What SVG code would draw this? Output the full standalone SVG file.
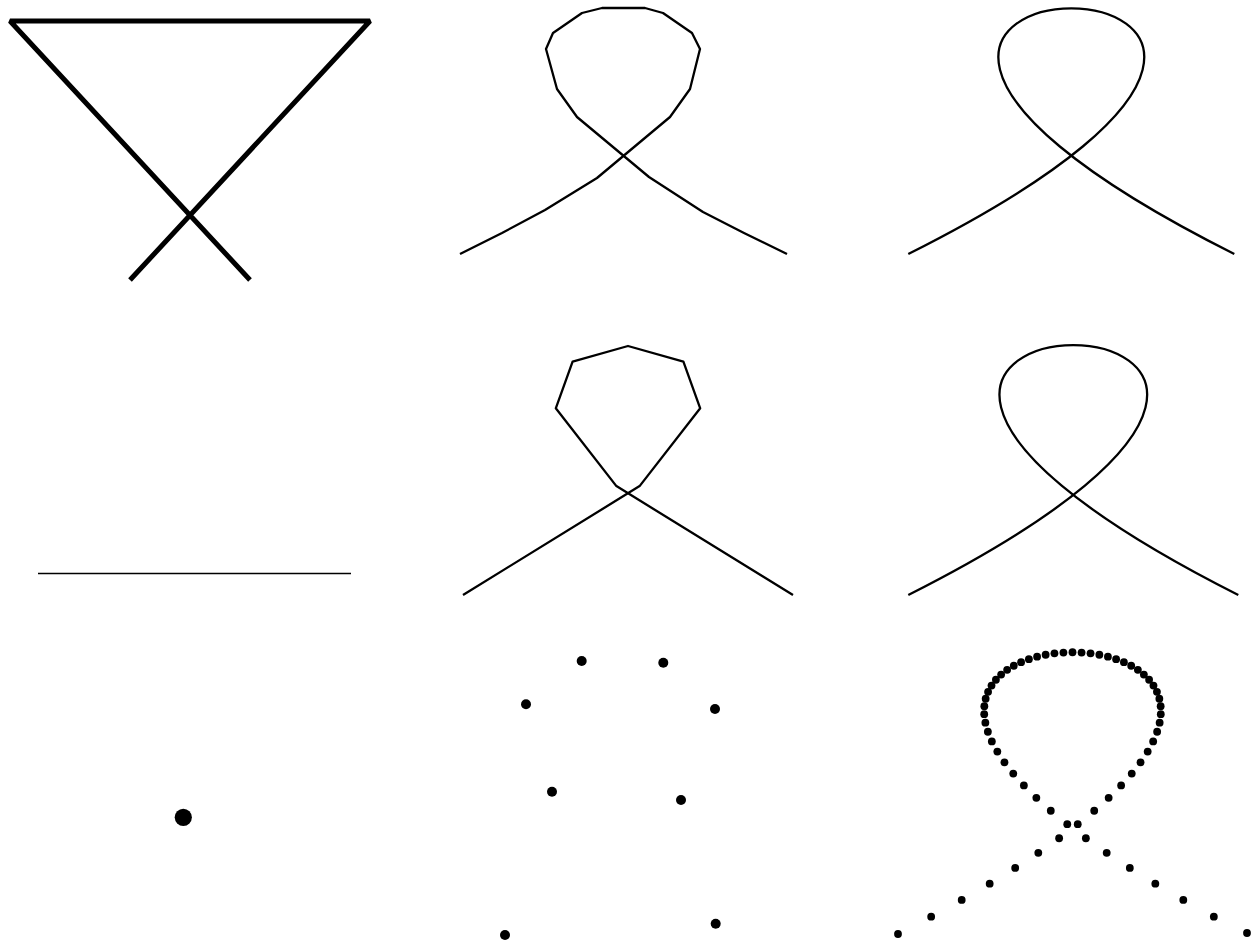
<svg xmlns="http://www.w3.org/2000/svg" width="1252" height="943" viewBox="0 0 1252 943">
<style>
.ln{fill:none;stroke:#000;stroke-width:2.3;stroke-linejoin:round}
</style>
<defs>
<circle id="d" r="3.9" fill="#000"/>
<circle id="dm" r="5" fill="#000"/>
</defs>
<rect width="1252" height="943" fill="#fff"/>
<g id="control-polygon">
<polyline points="130,280 370,21 10,21 250,280" fill="none" stroke="#000" stroke-width="5" stroke-linejoin="bevel"/>
</g>
<g id="coarse-flatten">
<polyline class="ln" points="460,254 502,233 545,210 597,178 670,117 690,89 700,49 692,33 663,13 645,8 602,8 582,13 553,33 546,49 557,89 577,117 649,177 703,212 744,233 787,254"/>
</g>
<g id="smooth-curve-1">
<path class="ln" d="M908.3,254 C1560.3,-73.6 582.3,-73.6 1234.3,254"/>
</g>
<g id="line-segment">
<line x1="38" y1="573.5" x2="351" y2="573.5" stroke="#000" stroke-width="1.6"/>
</g>
<g id="uniform-8">
<polyline class="ln" points="463,595 639.6,486.1 700.2,408.3 683.4,361.6 628,346 572.6,361.6 555.8,408.3 616.4,486.1 793,595"/>
</g>
<g id="smooth-curve-2">
<path class="ln" d="M908.3,595 C1568.3,261.7 578.3,261.7 1238.3,595"/>
</g>
<g id="single-point">
<circle cx="183.3" cy="817.3" r="8.6" fill="#000"/>
</g>
<g id="sparse-points">
<use href="#dm" x="581.7" y="661"/>
<use href="#dm" x="663.3" y="662.7"/>
<use href="#dm" x="526" y="704.3"/>
<use href="#dm" x="715" y="709"/>
<use href="#dm" x="552" y="791.7"/>
<use href="#dm" x="681" y="800"/>
<use href="#dm" x="505" y="935"/>
<use href="#dm" x="715.7" y="923.7"/>
</g>
<g id="dense-points">
<use href="#d" x="898" y="934"/>
<use href="#d" x="931.17" y="916.67"/>
<use href="#d" x="961.7" y="899.88"/>
<use href="#d" x="989.68" y="883.65"/>
<use href="#d" x="1015.18" y="867.96"/>
<use href="#d" x="1038.3" y="852.83"/>
<use href="#d" x="1059.13" y="838.25"/>
<use href="#d" x="1077.74" y="824.22"/>
<use href="#d" x="1094.22" y="810.73"/>
<use href="#d" x="1108.65" y="797.8"/>
<use href="#d" x="1121.13" y="785.42"/>
<use href="#d" x="1131.74" y="773.59"/>
<use href="#d" x="1140.55" y="762.31"/>
<use href="#d" x="1147.67" y="751.58"/>
<use href="#d" x="1153.16" y="741.4"/>
<use href="#d" x="1157.13" y="731.77"/>
<use href="#d" x="1159.64" y="722.69"/>
<use href="#d" x="1160.79" y="714.16"/>
<use href="#d" x="1160.67" y="706.18"/>
<use href="#d" x="1159.35" y="698.75"/>
<use href="#d" x="1156.93" y="691.87"/>
<use href="#d" x="1153.48" y="685.54"/>
<use href="#d" x="1149.1" y="679.76"/>
<use href="#d" x="1143.87" y="674.54"/>
<use href="#d" x="1137.87" y="669.86"/>
<use href="#d" x="1131.19" y="665.73"/>
<use href="#d" x="1123.91" y="662.16"/>
<use href="#d" x="1116.12" y="659.13"/>
<use href="#d" x="1107.91" y="656.65"/>
<use href="#d" x="1099.36" y="654.73"/>
<use href="#d" x="1090.55" y="653.35"/>
<use href="#d" x="1081.57" y="652.53"/>
<use href="#d" x="1072.5" y="652.25"/>
<use href="#d" x="1063.43" y="652.53"/>
<use href="#d" x="1054.45" y="653.35"/>
<use href="#d" x="1045.64" y="654.73"/>
<use href="#d" x="1037.09" y="656.65"/>
<use href="#d" x="1028.88" y="659.13"/>
<use href="#d" x="1021.09" y="662.16"/>
<use href="#d" x="1013.81" y="665.73"/>
<use href="#d" x="1007.13" y="669.86"/>
<use href="#d" x="1001.13" y="674.54"/>
<use href="#d" x="995.9" y="679.76"/>
<use href="#d" x="991.52" y="685.54"/>
<use href="#d" x="988.07" y="691.87"/>
<use href="#d" x="985.65" y="698.75"/>
<use href="#d" x="984.33" y="706.18"/>
<use href="#d" x="984.21" y="714.16"/>
<use href="#d" x="985.36" y="722.69"/>
<use href="#d" x="987.87" y="731.77"/>
<use href="#d" x="991.84" y="741.4"/>
<use href="#d" x="997.33" y="751.58"/>
<use href="#d" x="1004.45" y="762.31"/>
<use href="#d" x="1013.26" y="773.59"/>
<use href="#d" x="1023.87" y="785.42"/>
<use href="#d" x="1036.35" y="797.8"/>
<use href="#d" x="1050.78" y="810.73"/>
<use href="#d" x="1067.26" y="824.22"/>
<use href="#d" x="1085.87" y="838.25"/>
<use href="#d" x="1106.7" y="852.83"/>
<use href="#d" x="1129.82" y="867.96"/>
<use href="#d" x="1155.32" y="883.65"/>
<use href="#d" x="1183.3" y="899.88"/>
<use href="#d" x="1213.83" y="916.67"/>
<use href="#d" x="1247" y="933"/>
</g>
<g id="connectors"></g>
</svg>
